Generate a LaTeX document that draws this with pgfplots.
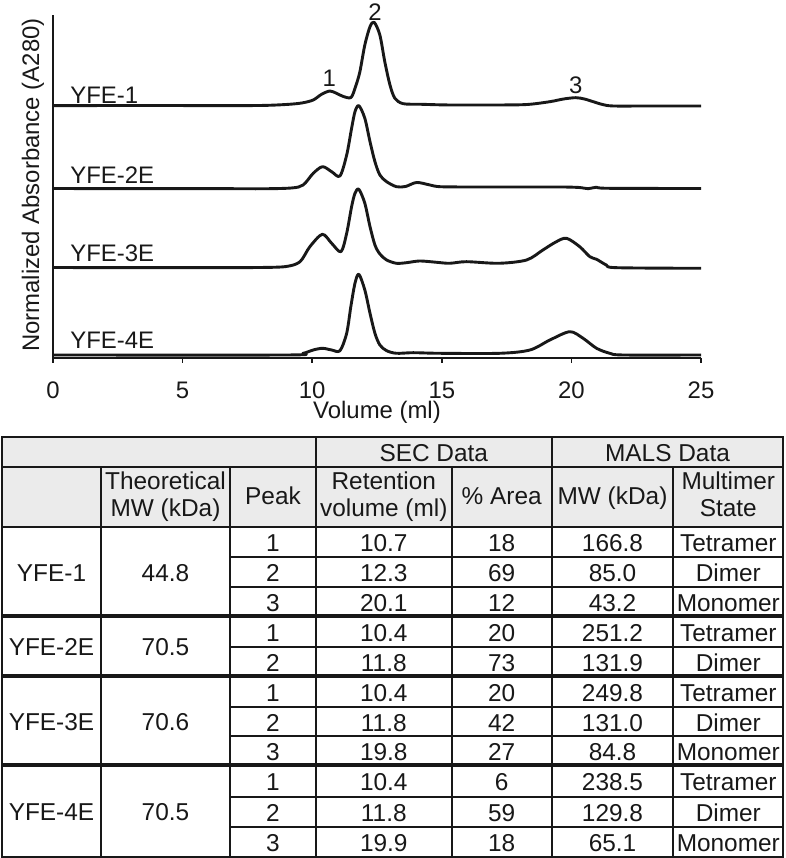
\documentclass[border=0pt]{standalone}
\usepackage{fontspec}
\setmainfont{Liberation Sans}
\usepackage{pgfplots}
\pgfplotsset{compat=1.18}
\definecolor{ink}{HTML}{181818}
\definecolor{hdr}{HTML}{EBEBEB}
\newcommand\pfont{\fontsize{24}{26}\selectfont}
\newcommand\tfont{\fontsize{24.5}{27}\selectfont}
% table text: x, row-centre (px from top), text
\newcommand\T[3]{\node[anchor=base,inner sep=0pt,font=\tfont,text=ink] at (#1,#2+10) {#3};}
\begin{document}
\begin{tikzpicture}[x=1bp,y=1bp]
\useasboundingbox (0,0) rectangle (786,858);
\begin{axis}[
  at={(53bp,500bp)}, anchor=south west,
  scale only axis, width=648bp, height=343bp,
  xmin=0, xmax=25, ymin=0, ymax=343,
  axis x line*=bottom, axis y line*=left,
  axis line style={line width=1.5bp, ink, -},
  xtick={0,5,10,15,20,25}, ytick=\empty,
  xticklabels={0,5,10,15,20,25},
  tick align=outside, major tick length=5bp,
  every tick/.style={line width=1.5bp, ink},
  xticklabel style={font=\pfont, text=ink, anchor=base, inner sep=0pt},
  xticklabel shift=0pt,
  every x tick label/.append style={yshift=-35.3bp},
  xlabel={Volume (ml)}, ylabel={Normalized Absorbance (A280)},
  label style={font=\pfont, text=ink},
  x label style={at={(axis description cs:0.5,-0.1758)}, anchor=base, inner sep=0pt},
  y label style={at={(axis description cs:-0.031,0.504)}, anchor=center},
  clip=false,
  trace/.style={line width=2.9bp, ink, smooth, tension=0.5, line join=round},
]
% YFE-1
\addplot[trace] coordinates {(0,252.3)(3,252.5)(6,252.4)(8,252.5)(9,253.5)(9.6,255)(10.04,258)(10.35,263.5)(10.68,267)(10.95,264.5)(11.2,261.5)(11.5,260.6)(11.68,272)(11.84,286.3)(12.03,313)(12.23,331.3)(12.39,335.7)(12.61,323)(12.8,296.3)(13.0,273)(13.19,259.7)(13.51,254.3)(14.2,253.7)(15.3,253)(17.2,253)(18.3,253.5)(19.17,256.3)(19.7,259)(20.17,260.3)(20.5,259)(20.84,256.3)(21.2,253.5)(21.61,252)(23,252)(25,252)};
% YFE-2E
\addplot[trace] coordinates {(0,169.5)(3,169.3)(6,169.4)(8,169.2)(9.2,170)(9.65,173)(10.04,184.7)(10.4,191.3)(10.75,186.3)(11.07,182)(11.33,203)(11.52,229.7)(11.65,246.3)(11.8,252.3)(12.03,239.7)(12.23,216.3)(12.42,196.3)(12.61,183)(12.87,176.3)(13.25,171.3)(13.6,171.5)(14.03,175.5)(14.54,173)(14.92,171.3)(16,171)(18,171)(19.6,171)(20.3,170.5)(20.65,169.3)(20.97,170.8)(21.4,169.7)(25,169.5)};
% YFE-3E
\addplot[trace] coordinates {(0,90.5)(3,90.3)(6,90.4)(8,90.5)(9,91.5)(9.53,96.3)(9.91,111.3)(10.39,123.7)(10.75,114.7)(11.11,106.3)(11.33,124.7)(11.52,151.3)(11.65,164.7)(11.8,168.7)(12.03,154.7)(12.23,131.3)(12.42,113)(12.61,104)(12.87,98)(13.25,94.7)(13.64,95.3)(14.15,97)(14.8,95.7)(15.3,94.7)(15.95,96.3)(17.2,94.7)(18.27,98)(18.9,108)(19.4,116)(19.81,119.7)(20.32,111.3)(20.71,101.3)(20.97,98.7)(21.35,93)(21.74,90.3)(25,89.7)};
% YFE-4E
\addplot[trace] coordinates {(0,3)(9,3)(9.65,4.7)(10.04,8)(10.4,9.7)(10.75,8)(11.07,7.3)(11.33,24.7)(11.49,51.3)(11.65,74.7)(11.8,83.7)(12.03,68)(12.23,44.7)(12.42,24.7)(12.61,13)(12.87,7.3)(13.25,4.7)(13.9,5.3)(14.92,4.7)(17.24,4.7)(18.4,8)(19.17,18)(19.94,26.3)(20.45,19.7)(20.97,9.7)(21.48,4.7)(22,3)(25,3)};
\node[anchor=west,inner sep=0pt,font=\pfont,text=ink] at (axis cs:0.66,263) {YFE-1};
\node[anchor=west,inner sep=0pt,font=\pfont,text=ink] at (axis cs:0.66,183) {YFE-2E};
\node[anchor=west,inner sep=0pt,font=\pfont,text=ink] at (axis cs:0.66,105) {YFE-3E};
\node[anchor=west,inner sep=0pt,font=\pfont,text=ink] at (axis cs:0.66,18) {YFE-4E};
\node[inner sep=0pt,font=\pfont,text=ink] at (axis cs:10.66,280) {1};
\node[inner sep=0pt,font=\pfont,text=ink] at (axis cs:12.42,346) {2};
\node[inner sep=0pt,font=\pfont,text=ink] at (axis cs:20.17,273) {3};
\end{axis}
\begin{scope}[shift={(0,858)}, yscale=-1]
\fill[hdr] (2,436.7) rectangle (783.3,526.7);
\begin{scope}[line width=1.9bp, draw=ink]
\foreach \yy in {466.7,526.7} \draw (2,\yy) -- (783.3,\yy);
\foreach \yy in {556.7,586.7,646.7,706.7,736,796.7,826.7} \draw (230,\yy) -- (783.3,\yy);
\foreach \xx in {101,230,451.7,673.3} \draw (\xx,466.7) -- (\xx,856.7);
\foreach \xx in {316,551.7} \draw (\xx,436.7) -- (\xx,856.7);
\end{scope}
\foreach \yy in {616,676,765} \draw[line width=4.5bp, ink] (2,\yy) -- (783.3,\yy);
\draw[line width=2.3bp, ink] (2,436.7) rectangle (783.3,856.7);
% header
\T{433.8}{451.7}{SEC Data}
\T{667.5}{451.7}{MALS Data}
\T{165.5}{479.7}{Theoretical}
\T{165.5}{506.3}{MW (kDa)}
\T{273}{494.7}{Peak}
\T{383.8}{479.7}{Retention}
\T{383.8}{506.3}{volume (ml)}
\T{501.7}{494.7}{\% Area}
\T{612.5}{494.7}{MW (kDa)}
\T{728.3}{479.7}{Multimer}
\T{728.3}{506.3}{State}
% groups
\T{51.5}{571.3}{YFE-1}\T{165.5}{571.3}{44.8}
\T{51.5}{646}{YFE-2E}\T{165.5}{646}{70.5}
\T{51.5}{720.5}{YFE-3E}\T{165.5}{720.5}{70.6}
\T{51.5}{810.8}{YFE-4E}\T{165.5}{810.8}{70.5}
% rows
\T{273}{541.7}{1}\T{383.8}{541.7}{10.7}\T{501.7}{541.7}{18}\T{612.5}{541.7}{166.8}\T{728.3}{541.7}{Tetramer}
\T{273}{571.7}{2}\T{383.8}{571.7}{12.3}\T{501.7}{571.7}{69}\T{612.5}{571.7}{85.0}\T{728.3}{571.7}{Dimer}
\T{273}{601.3}{3}\T{383.8}{601.3}{20.1}\T{501.7}{601.3}{12}\T{612.5}{601.3}{43.2}\T{728.3}{601.3}{Monomer}
\T{273}{631.3}{1}\T{383.8}{631.3}{10.4}\T{501.7}{631.3}{20}\T{612.5}{631.3}{251.2}\T{728.3}{631.3}{Tetramer}
\T{273}{661.3}{2}\T{383.8}{661.3}{11.8}\T{501.7}{661.3}{73}\T{612.5}{661.3}{131.9}\T{728.3}{661.3}{Dimer}
\T{273}{691.3}{1}\T{383.8}{691.3}{10.4}\T{501.7}{691.3}{20}\T{612.5}{691.3}{249.8}\T{728.3}{691.3}{Tetramer}
\T{273}{721.3}{2}\T{383.8}{721.3}{11.8}\T{501.7}{721.3}{42}\T{612.5}{721.3}{131.0}\T{728.3}{721.3}{Dimer}
\T{273}{750.5}{3}\T{383.8}{750.5}{19.8}\T{501.7}{750.5}{27}\T{612.5}{750.5}{84.8}\T{728.3}{750.5}{Monomer}
\T{273}{780.8}{1}\T{383.8}{780.8}{10.4}\T{501.7}{780.8}{6}\T{612.5}{780.8}{238.5}\T{728.3}{780.8}{Tetramer}
\T{273}{811.7}{2}\T{383.8}{811.7}{11.8}\T{501.7}{811.7}{59}\T{612.5}{811.7}{129.8}\T{728.3}{811.7}{Dimer}
\T{273}{841.7}{3}\T{383.8}{841.7}{19.9}\T{501.7}{841.7}{18}\T{612.5}{841.7}{65.1}\T{728.3}{841.7}{Monomer}
\end{scope}
\end{tikzpicture}
\end{document}
